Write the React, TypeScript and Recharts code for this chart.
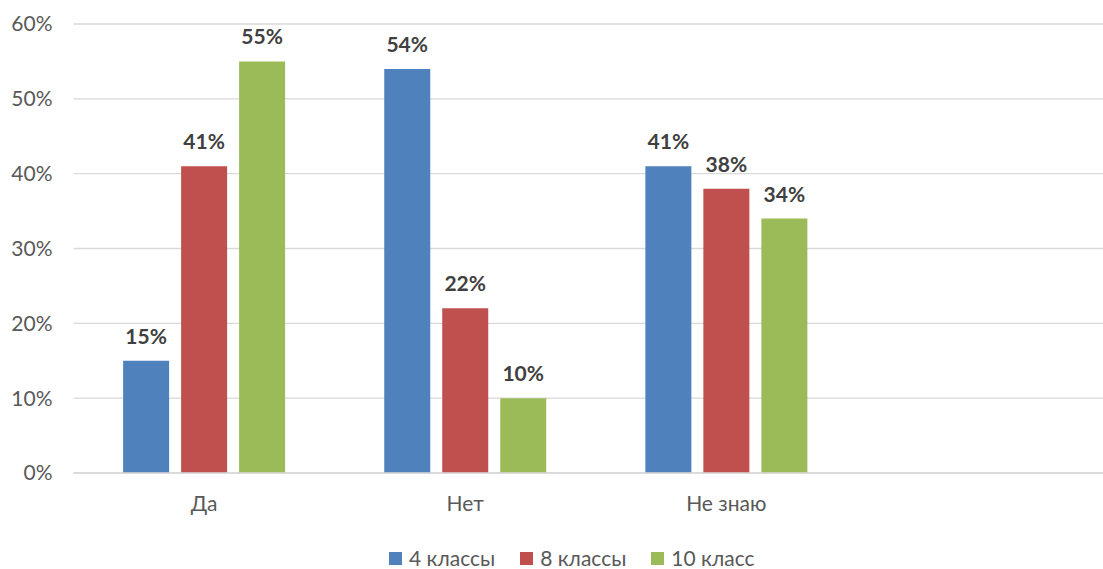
import { BarChart, Bar, XAxis, YAxis, CartesianGrid, Legend, LabelList } from 'recharts';

// answer categories (4th slot is empty in the original)
const categories = ['Да', 'Нет', 'Не знаю', ''];
const grade4 = [15, 54, 41, null];
const grade8 = [41, 22, 38, null];
const grade10 = [55, 10, 34, null];
const yTicks = [0, 10, 20, 30, 40, 50, 60];

const seriesNames = ['4 классы', '8 классы', '10 класс'];
const seriesColors = ['#4F81BD', '#C0504D', '#9BBB59'];

const data = categories.map((name, i) => ({
  name,
  g4: grade4[i],
  g8: grade8[i],
  g10: grade10[i],
}));

const FONT = 'Lato, "Open Sans", sans-serif';

function CustomLegend() {
  return (
    <div style={{ display: 'flex', alignItems: 'center', height: 24, lineHeight: '24px', fontFamily: FONT, fontSize: 21, color: '#595959' }}>
      {seriesNames.map((n, i) => (
        <div key={n} style={{ display: 'flex', alignItems: 'center', marginRight: 25 }}>
          <span style={{ width: 13, height: 13, background: seriesColors[i], display: 'inline-block', marginRight: 7 }} />
          <span>{n}</span>
        </div>
      ))}
    </div>
  );
}

export default function App() {
  const labelStyle = { fontFamily: FONT, fontSize: 21, fontWeight: 700, fill: '#404040' };
  const fmt = (v) => (v == null ? '' : `${v}%`);
  return (
    <div style={{ position: 'absolute', left: 0, top: 0, width: 1103, height: 569, overflow: 'hidden', background: '#fff' }}>
      <BarChart
        width={1118}
        height={569}
        data={data}
        margin={{ top: 24, right: 0, left: 0, bottom: 0 }}
        barCategoryGap="19%"
        barGap={12}
      >
        <CartesianGrid vertical={false} stroke="#d9d9d9" strokeWidth={1.3} />
        <XAxis
          dataKey="name"
          height={72}
          tickLine={false}
          tickSize={0}
          tickMargin={23}
          axisLine={{ stroke: '#d9d9d9', strokeWidth: 1.3 }}
          tick={{ fontFamily: FONT, fontSize: 21, fill: '#595959' }}
        />
        <YAxis
          width={73.5}
          domain={[0, 60]}
          ticks={yTicks}
          tickFormatter={(v) => `${v}%`}
          axisLine={false}
          tickLine={false}
          tickSize={0}
          tickMargin={21}
          tick={{ fontFamily: FONT, fontSize: 21, fill: '#595959' }}
        />
        <Legend
          height={24}
          content={<CustomLegend />}
          wrapperStyle={{ left: 389, top: 546, width: 'auto', height: 24 }}
        />
        <Bar dataKey="g4" name={seriesNames[0]} fill={seriesColors[0]} isAnimationActive={false}>
          <LabelList dataKey="g4" position="top" offset={17} formatter={fmt} style={labelStyle} />
        </Bar>
        <Bar dataKey="g8" name={seriesNames[1]} fill={seriesColors[1]} isAnimationActive={false}>
          <LabelList dataKey="g8" position="top" offset={17} formatter={fmt} style={labelStyle} />
        </Bar>
        <Bar dataKey="g10" name={seriesNames[2]} fill={seriesColors[2]} isAnimationActive={false}>
          <LabelList dataKey="g10" position="top" offset={17} formatter={fmt} style={labelStyle} />
        </Bar>
      </BarChart>
    </div>
  );
}
